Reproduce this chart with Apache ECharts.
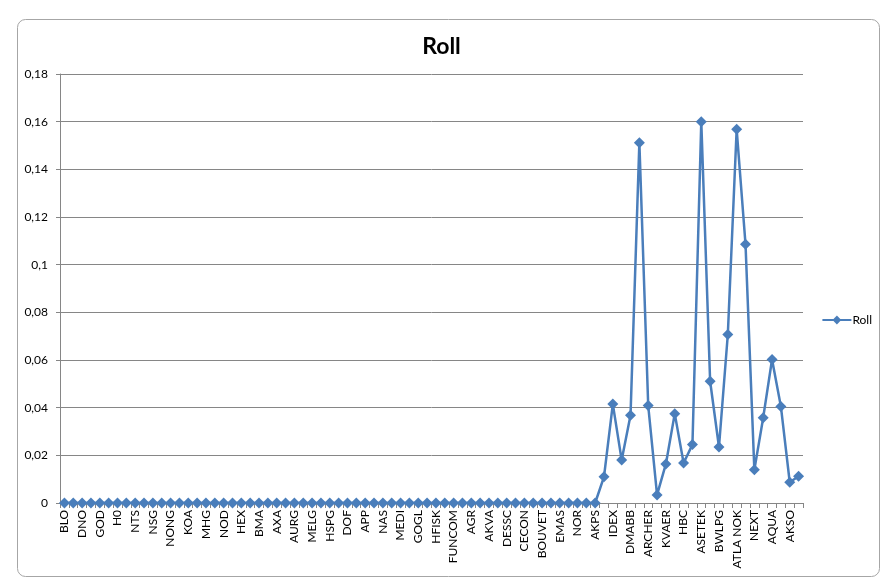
<!DOCTYPE html>
<html><head><meta charset="utf-8">
<script src="https://cdn.jsdelivr.net/npm/echarts@6/dist/echarts.min.js"></script>
<style>html,body{margin:0;padding:0;background:#fff}#c{width:883px;height:578px}</style>
</head><body><div id="c"></div>
<script>
const labeledTickers = ["BLO","DNO","GOD","H0","NTS","NSG","NONG","KOA","MHG","NOD","HEX","BMA","AXA","AURG","MELG","HSPG","DOF","APP","NAS","MEDI","GOGL","HFISK","FUNCOM","AGR","AKVA","DESSC","CECON","BOUVET","EMAS","NOR","AKPS","IDEX","DMABB","ARCHER","KVAER","HBC","ASETEK","BWLPG","ATLA NOK","NEXT","AQUA","AKSO"];
// every other category carries a (hidden) label in the reference
const categories = [];
labeledTickers.forEach(t => { categories.push(t); categories.push(''); });
const zeroPart = new Array(61).fill(0);
const tailValues = [0.011,0.0415,0.018,0.0368,0.1512,0.0409,0.0034,0.0164,0.0375,0.0168,0.0245,0.16,0.0511,0.0235,0.0707,0.1568,0.1086,0.0139,0.0358,0.0602,0.0405,0.0087,0.0112];
const rollValues = zeroPart.concat(tailValues);
const yTicks = [0,0.02,0.04,0.06,0.08,0.1,0.12,0.14,0.16,0.18];

const chart = echarts.init(document.getElementById('c'));
chart.setOption({
  backgroundColor:'#fff',
  animation:false,
  graphic:[{type:'rect',left:15,top:17,shape:{width:862,height:557,r:8},style:{fill:'none',stroke:'#a6a6a6',lineWidth:1}}],
  title:{text:'Roll',left:'center',top:30,textStyle:{fontFamily:'Lato',fontSize:23,fontWeight:'bold',color:'#000'}},
  legend:{right:6,top:309,orient:'vertical',itemWidth:29,itemHeight:11,itemGap:4,
    textStyle:{fontFamily:'Lato',fontSize:12,color:'#000',padding:[0,0,0,-4]},data:['Roll']},
  grid:{left:60,right:80,top:74,bottom:75,containLabel:false},
  xAxis:{type:'category',data:categories,boundaryGap:true,
    axisLine:{lineStyle:{color:'#868686'}},
    axisTick:{show:true,interval:0,length:5,lineStyle:{color:'#868686'}},
    axisLabel:{interval:1,rotate:90,fontFamily:'Lato',fontSize:12,color:'#000',margin:7}},
  yAxis:{type:'value',min:0,max:0.18,interval:0.02,
    axisLine:{show:true,lineStyle:{color:'#868686'}},
    axisTick:{show:true,length:4,lineStyle:{color:'#868686'}},
    splitLine:{lineStyle:{color:'#868686',width:1}},
    axisLabel:{fontFamily:'Lato',fontSize:12,color:'#000',margin:12,
      formatter:v=>{const t=yTicks.find(x=>Math.abs(x-v)<1e-9);return String(t===undefined?v:+t.toFixed(2)).replace('.',',');}}},
  series:[{name:'Roll',type:'line',data:rollValues,symbol:'diamond',symbolSize:11,showSymbol:true,showAllSymbol:true,
    itemStyle:{color:'#4a7ebb'},lineStyle:{color:'#4a7ebb',width:2.5}}]
});
</script></body></html>
